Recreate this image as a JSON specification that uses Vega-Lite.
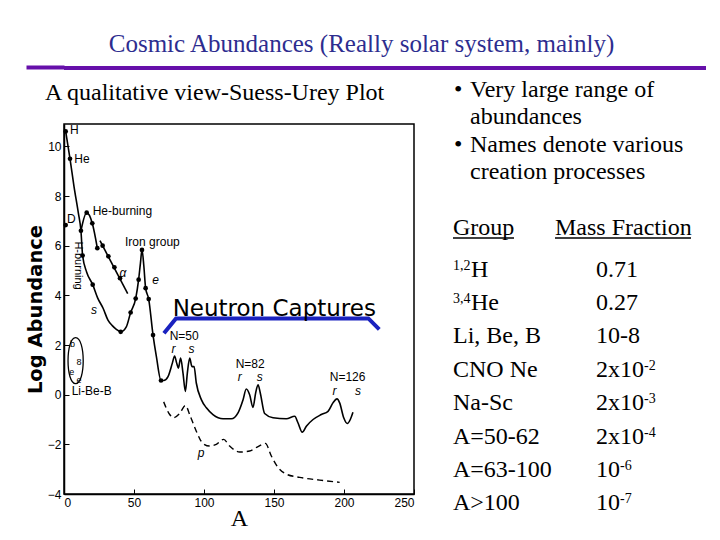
{
  "$schema": "https://vega.github.io/schema/vega-lite/v6.json",
  "background": "white",
  "padding": {"left": 24, "top": 32, "right": 0, "bottom": 0},
  "title": {"text": "Cosmic Abundances (Really solar system, mainly)", "font": "Liberation Serif", "fontSize": 25, "fontWeight": "normal", "color": "#2d2d8f", "anchor": "middle", "offset": 8, "dx": -6},
  "config": {"view": {"stroke": "black", "strokeWidth": 1.5}, "font": "Liberation Sans"},
  "datasets": {
    "main": [
      {"A":1.2,"v":10.6},{"A":4.3,"v":9.5},{"A":7.1,"v":8.4},{"A":10.2,"v":7.33},{"A":12.1,"v":6.6},{"A":13.3,"v":5.6},{"A":16.2,"v":4.93},{"A":20.5,"v":4.43},{"A":24,"v":3.9},{"A":28,"v":3.47},{"A":31.4,"v":3.0},{"A":34.5,"v":2.78},{"A":37.4,"v":2.63},{"A":40.5,"v":2.53},{"A":44.5,"v":2.73},{"A":47.6,"v":3.31},{"A":51.2,"v":3.87},{"A":53.3,"v":4.63},{"A":54.6,"v":5.3},{"A":55.7,"v":5.83},{"A":57,"v":5.2},{"A":58.3,"v":4.29},{"A":60.5,"v":3.85},{"A":63.6,"v":2.4},{"A":66,"v":1.53},{"A":69.3,"v":0.57},{"A":71.2,"v":0.57},{"A":74.3,"v":0.73},{"A":77.4,"v":1.27},{"A":79,"v":1.56},{"A":80.5,"v":1.27},{"A":81.7,"v":1.07},{"A":83.3,"v":1.47},{"A":85,"v":0.87},{"A":86.7,"v":0.13},{"A":88.1,"v":0.87},{"A":89.8,"v":1.47},{"A":91.4,"v":1.13},{"A":92.9,"v":1.13},{"A":94.5,"v":0.47},{"A":98.1,"v":-0.2},{"A":101.7,"v":-0.53},{"A":106.4,"v":-0.8},{"A":113.6,"v":-0.97},{"A":119.5,"v":-0.97},{"A":124.3,"v":-0.73},{"A":127.9,"v":-0.2},{"A":130.2,"v":0.23},{"A":132.6,"v":0},{"A":135,"v":-0.51},{"A":136.9,"v":0.07},{"A":138.6,"v":0.4},{"A":140.2,"v":0.07},{"A":143.3,"v":-0.76},{"A":149.3,"v":-0.93},{"A":158.8,"v":-0.97},{"A":164.8,"v":-0.87},{"A":167.1,"v":-1.13},{"A":170.2,"v":-1.51},{"A":173.1,"v":-1.27},{"A":177.9,"v":-1.0},{"A":183.8,"v":-0.8},{"A":188.6,"v":-0.67},{"A":192.1,"v":-0.33},{"A":195,"v":-0.17},{"A":196.9,"v":-0.33},{"A":199.8,"v":-0.93},{"A":202.4,"v":-1.16},{"A":204.5,"v":-1.0},{"A":206.4,"v":-0.71}
    ],
    "heburning": [{"A":12.1,"v":6.6},{"A":16.2,"v":7.33},{"A":20.2,"v":6.9},{"A":23.8,"v":5.9}],
    "alpha": [{"A":25.7,"v":6.2},{"A":45.5,"v":4.07}],
    "pcurve": [
      {"A":71.2,"v":-0.29},{"A":75.5,"v":-0.8},{"A":78.3,"v":-0.93},{"A":82.6,"v":-0.76},{"A":86.7,"v":-0.44},{"A":90.2,"v":-0.87},{"A":94.5,"v":-1.47},{"A":99.3,"v":-1.97},{"A":104,"v":-2.07},{"A":108.8,"v":-2.0},{"A":114,"v":-1.8},{"A":118.3,"v":-2.07},{"A":125.5,"v":-2.31},{"A":132.6,"v":-2.27},{"A":138.6,"v":-2.09},{"A":143.8,"v":-1.96},{"A":148.1,"v":-2.47},{"A":152.9,"v":-2.93},{"A":158.8,"v":-3.2},{"A":168.3,"v":-3.33},{"A":182.6,"v":-3.44},{"A":196.9,"v":-3.53}
    ],
    "dots": [
      {"A":1.2,"v":10.6},{"A":4.3,"v":9.5},{"A":1.2,"v":6.83},{"A":12.1,"v":6.6},{"A":13.3,"v":5.6},{"A":20.5,"v":4.43},{"A":16.2,"v":7.33},{"A":20.2,"v":6.9},{"A":23.8,"v":5.9},{"A":27.6,"v":6.0},{"A":31.7,"v":5.57},{"A":36,"v":5.13},{"A":40,"v":4.69},{"A":40.5,"v":2.53},{"A":47.6,"v":3.31},{"A":51.2,"v":3.87},{"A":53.3,"v":4.63},{"A":55.7,"v":5.83},{"A":58.3,"v":4.29},{"A":60.5,"v":3.85},{"A":63.6,"v":2.4},{"A":69.3,"v":0.57}
    ],
    "ellipse": [{"A":8.3,"v":1.37}],
    "labels": [
      {"A":4.3,"v":10.67,"t":"H"},{"A":7.4,"v":9.5,"t":"He"},{"A":2.1,"v":7.07,"t":"D"},{"A":20.5,"v":7.4,"t":"He-burning"},{"A":43.6,"v":6.16,"t":"Iron group"},{"A":75.5,"v":2.37,"t":"N=50"},{"A":122.6,"v":1.23,"t":"N=82"},{"A":189.8,"v":0.7,"t":"N=126"},{"A":5.5,"v":0.13,"t":"Li-Be-B"}
    ],
    "process": [
      {"A":42,"v":4.9,"t":"α"},{"A":65.5,"v":4.63,"t":"e"},{"A":21.4,"v":3.4,"t":"s"},{"A":78.3,"v":1.84,"t":"r"},{"A":91,"v":1.84,"t":"s"},{"A":125.5,"v":0.7,"t":"r"},{"A":139.8,"v":0.7,"t":"s"},{"A":193.3,"v":0.16,"t":"r"},{"A":210,"v":0.16,"t":"s"},{"A":98,"v":-2.33,"t":"p"}
    ],
    "libeb": [{"A":6,"v":2.04,"t":"b"},{"A":10.7,"v":1.33,"t":"8"},{"A":5.5,"v":0.93,"t":"e"},{"A":10.8,"v":0.6,"t":"e"}],
    "hburn": [{"A":10.2,"v":5.2,"t":"H-burning"}],
    "neutron": [{"A":77.6,"v":3.16,"t":"Neutron Captures"}],
    "bracket": [{"A":71.4,"v":2.47},{"A":80,"v":3.07},{"A":217.4,"v":3.07},{"A":225.2,"v":2.63}],
    "body": [
      {"t":"•","x":13,"y":15},{"t":"Very large range of","x":29,"y":15},{"t":"abundances","x":29,"y":41.7},
      {"t":"•","x":13,"y":70},{"t":"Names denote various","x":29,"y":70},{"t":"creation processes","x":29,"y":96.7},
      {"t":"Group","x":12,"y":153},{"t":"Mass Fraction","x":114,"y":153},
      {"t":"H","x":30,"y":195},{"t":"0.71","x":155,"y":195},
      {"t":"He","x":30,"y":228},{"t":"0.27","x":155,"y":228},
      {"t":"Li, Be, B","x":12,"y":261},{"t":"10-8","x":155,"y":261},
      {"t":"CNO Ne","x":12,"y":295},{"t":"2x10","x":155,"y":295},
      {"t":"Na-Sc","x":12,"y":328},{"t":"2x10","x":155,"y":328},
      {"t":"A=50-62","x":12,"y":361.7},{"t":"2x10","x":155,"y":361.7},
      {"t":"A=63-100","x":12,"y":395},{"t":"10","x":155,"y":395},
      {"t":"A>100","x":12,"y":427.7},{"t":"10","x":155,"y":427.7}
    ],
    "sup": [
      {"t":"1,2","x":12,"y":195},{"t":"3,4","x":12,"y":228},{"t":"-2","x":203,"y":295},{"t":"-3","x":203,"y":328},{"t":"-4","x":203,"y":361.7},{"t":"-6","x":179,"y":395},{"t":"-7","x":179,"y":427.7}
    ],
    "underline": [{"x":12,"x2":73,"y":156},{"x":114,"x2":250,"y":156}]
  },
  "spacing": 8,
  "vconcat": [
    {
      "width": 642, "height": 4,
      "view": {"stroke": null, "fill": "#6610aa"},
      "data": {"values": [{"k": 0.75}]},
      "mark": {"type": "rule", "opacity": 0, "strokeWidth": 1},
      "encoding": {
        "y": {"field": "k", "type": "quantitative", "scale": {"domain": [0, 1], "nice": false, "zero": false},
          "axis": {"values": [0.75], "tickSize": 38, "tickWidth": 4, "tickColor": "#6610aa", "tickCap": "butt", "labels": false, "domain": false, "title": null, "grid": false}}
      }
    },
    {
      "spacing": 25,
      "hconcat": [
        {
          "width": 350, "height": 370,
          "title": {"text": "A qualitative view-Suess-Urey Plot", "font": "Liberation Serif", "fontSize": 24, "fontWeight": "normal", "color": "black", "anchor": "start", "frame": "group", "dx": -19, "offset": 19},
          "layer": [
            {
              "data": {"name": "main"},
              "mark": {"type": "line", "color": "black", "strokeWidth": 1.6, "interpolate": "monotone"},
              "encoding": {
                "x": {"field": "A", "type": "quantitative", "scale": {"domain": [0, 250], "nice": false},
                  "axis": {"title": "A", "titleFont": "Liberation Serif", "titleFontSize": 24, "titleFontWeight": "normal", "titleColor": "black", "titlePadding": -2, "values": [0, 50, 100, 150, 200, 250], "labelFont": "Liberation Sans", "labelFontSize": 12, "labelColor": "black", "tickSize": -5, "labelPadding": 8, "tickColor": "black", "domainColor": "black", "domainWidth": 1.5, "grid": false}},
                "y": {"field": "v", "type": "quantitative", "scale": {"domain": [-4, 10.9], "nice": false, "zero": false},
                  "axis": {"title": "Log Abundance", "titleFont": "DejaVu Sans", "titleFontSize": 19.5, "titleFontWeight": "bold", "titleColor": "black", "titlePadding": 2, "values": [-4, -2, 0, 2, 4, 6, 8, 10], "labelFont": "Liberation Sans", "labelFontSize": 12, "labelColor": "black", "tickSize": -5, "labelPadding": 8, "tickColor": "black", "domainColor": "black", "domainWidth": 1.5, "grid": false}}
              }
            },
            {"data": {"name": "heburning"}, "mark": {"type": "line", "color": "black", "strokeWidth": 1.6, "interpolate": "monotone"},
              "encoding": {"x": {"field": "A", "type": "quantitative"}, "y": {"field": "v", "type": "quantitative"}}},
            {"data": {"name": "alpha"}, "mark": {"type": "line", "color": "black", "strokeWidth": 1.6},
              "encoding": {"x": {"field": "A", "type": "quantitative"}, "y": {"field": "v", "type": "quantitative"}}},
            {"data": {"name": "pcurve"}, "mark": {"type": "line", "color": "black", "strokeWidth": 1.4, "strokeDash": [6, 4], "interpolate": "monotone"},
              "encoding": {"x": {"field": "A", "type": "quantitative"}, "y": {"field": "v", "type": "quantitative"}}},
            {"data": {"name": "dots"}, "mark": {"type": "point", "filled": true, "color": "black", "size": 22, "opacity": 1},
              "encoding": {"x": {"field": "A", "type": "quantitative"}, "y": {"field": "v", "type": "quantitative"}}},
            {"data": {"name": "ellipse"}, "mark": {"type": "point", "shape": "M0,-1 C0.44,-1 0.44,1 0,1 C-0.44,1 -0.44,-1 0,-1 Z", "size": 2116, "filled": false, "stroke": "black", "strokeWidth": 1.3, "opacity": 1},
              "encoding": {"x": {"field": "A", "type": "quantitative"}, "y": {"field": "v", "type": "quantitative"}}},
            {"data": {"name": "labels"}, "mark": {"type": "text", "font": "Liberation Sans", "fontSize": 12, "align": "left", "baseline": "middle", "color": "black"},
              "encoding": {"x": {"field": "A", "type": "quantitative"}, "y": {"field": "v", "type": "quantitative"}, "text": {"field": "t"}}},
            {"data": {"name": "process"}, "mark": {"type": "text", "font": "Liberation Sans", "fontSize": 12, "fontStyle": "italic", "align": "center", "baseline": "middle", "color": "black"},
              "encoding": {"x": {"field": "A", "type": "quantitative"}, "y": {"field": "v", "type": "quantitative"}, "text": {"field": "t"}}},
            {"data": {"name": "libeb"}, "mark": {"type": "text", "font": "Liberation Sans", "fontSize": 9, "align": "center", "baseline": "middle", "color": "black"},
              "encoding": {"x": {"field": "A", "type": "quantitative"}, "y": {"field": "v", "type": "quantitative"}, "text": {"field": "t"}}},
            {"data": {"name": "hburn"}, "mark": {"type": "text", "font": "Liberation Sans", "fontSize": 11, "angle": 90, "align": "center", "baseline": "middle", "color": "black"},
              "encoding": {"x": {"field": "A", "type": "quantitative"}, "y": {"field": "v", "type": "quantitative"}, "text": {"field": "t"}}},
            {"data": {"name": "bracket"}, "mark": {"type": "line", "color": "#1a22bf", "strokeWidth": 4},
              "encoding": {"x": {"field": "A", "type": "quantitative"}, "y": {"field": "v", "type": "quantitative"}}},
            {"data": {"name": "neutron"}, "mark": {"type": "text", "font": "DejaVu Sans", "fontSize": 23, "align": "left", "baseline": "alphabetic", "color": "black"},
              "encoding": {"x": {"field": "A", "type": "quantitative"}, "y": {"field": "v", "type": "quantitative"}, "text": {"field": "t"}}}
          ]
        },
        {
          "width": 270, "height": 390,
          "view": {"stroke": null},
          "layer": [
            {"data": {"name": "body"}, "mark": {"type": "text", "font": "Liberation Serif", "fontSize": 24, "align": "left", "baseline": "alphabetic", "color": "black"},
              "encoding": {
                "x": {"field": "x", "type": "quantitative", "scale": {"domain": [0, 270], "nice": false}, "axis": null},
                "y": {"field": "y", "type": "quantitative", "scale": {"domain": [42, 432], "nice": false, "zero": false, "reverse": true}, "axis": null},
                "text": {"field": "t"}}},
            {"data": {"name": "sup"}, "mark": {"type": "text", "font": "Liberation Serif", "fontSize": 14, "align": "left", "baseline": "alphabetic", "dy": -7, "color": "black"},
              "encoding": {"x": {"field": "x", "type": "quantitative"}, "y": {"field": "y", "type": "quantitative"}, "text": {"field": "t"}}},
            {"data": {"name": "underline"}, "mark": {"type": "rule", "color": "black", "strokeWidth": 1.3},
              "encoding": {"x": {"field": "x", "type": "quantitative"}, "x2": {"field": "x2"}, "y": {"field": "y", "type": "quantitative"}}}
          ]
        }
      ]
    }
  ]
}
